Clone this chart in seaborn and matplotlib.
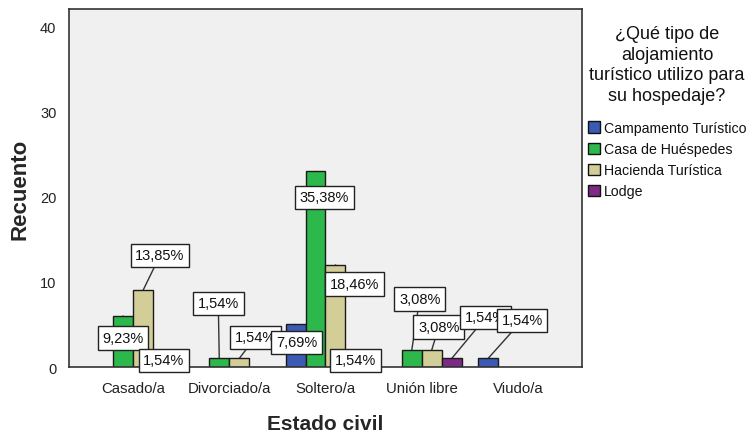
import numpy as np
import pandas as pd
import matplotlib
matplotlib.use("Agg")
import matplotlib.pyplot as plt
import seaborn as sns

# data (counts, n = 65)
estado = ['Casado/a', 'Divorciado/a', 'Soltero/a', 'Unión libre', 'Viudo/a']
tipos = ['Campamento Turístico', 'Casa de Huéspedes', 'Hacienda Turística', 'Lodge']
campamento = [0, 0, 5, 0, 1]
casa = [6, 1, 23, 2, 0]
hacienda = [9, 1, 12, 2, 0]
lodge = [1, 0, 1, 1, 0]
total = 65

colores = ['#3B5AB3', '#2DB84B', '#D3CE97', '#7D2A86']

# label box offsets in pixels from the bar top (x right, y up)
offsets = {
    ('Casado/a', 'Casa de Huéspedes'): (0, -22),
    ('Casado/a', 'Hacienda Turística'): (17, 35),
    ('Casado/a', 'Lodge'): (1, -2),
    ('Divorciado/a', 'Casa de Huéspedes'): (-1, 55),
    ('Divorciado/a', 'Hacienda Turística'): (16, 21),
    ('Soltero/a', 'Campamento Turístico'): (1, -18),
    ('Soltero/a', 'Casa de Huéspedes'): (9, -26),
    ('Soltero/a', 'Hacienda Turística'): (19, -19),
    ('Soltero/a', 'Lodge'): (0, -2),
    ('Unión libre', 'Casa de Huéspedes'): (8, 51),
    ('Unión libre', 'Hacienda Turística'): (7, 23),
    ('Unión libre', 'Lodge'): (34, 41),
    ('Viudo/a', 'Campamento Turístico'): (34, 38),
}

rows = []
for tipo, vals in zip(tipos, [campamento, casa, hacienda, lodge]):
    for e, v in zip(estado, vals):
        rows.append({'Estado civil': e, 'Tipo': tipo, 'Recuento': v})
df = pd.DataFrame(rows)

sns.set_style('white')
plt.rcParams['font.family'] = ['Liberation Sans', 'DejaVu Sans']

fig = plt.figure(figsize=(7.51, 4.39), dpi=100)
ax = fig.add_axes([69 / 751, 1 - 368 / 439, (582 - 69) / 751, (368 - 10) / 439])
ax.set_facecolor('#F0F0F0')

sns.barplot(data=df, x='Estado civil', y='Recuento', hue='Tipo',
            order=estado, hue_order=tipos, palette=colores, width=0.83,
            edgecolor='#1a1a1a', linewidth=1, saturation=1, ax=ax)

ax.set_xlim(-0.665, 4.665)
ax.set_ylim(0, 42.1)
ax.set_yticks([0, 10, 20, 30, 40])

box = dict(boxstyle='square,pad=0.32', fc='white', ec='#222222', lw=1)
for i, cont in enumerate(ax.containers):
    for j, bar in enumerate(cont):
        h = bar.get_height()
        if h <= 0:
            bar.set_visible(False)
            continue
        dx, dy = offsets.get((estado[j], tipos[i]), (0, 20))
        txt = f"{h / total * 100:.2f}%".replace('.', ',')
        xy = (bar.get_x() + bar.get_width() / 2, h)
        # leader line, kept behind the bars
        ax.annotate(txt, xy=xy, xytext=(dx, dy), textcoords='offset pixels',
                    ha='center', va='center', fontsize=10.5, color='none',
                    bbox=dict(boxstyle='square,pad=0.32', fc='none', ec='none'),
                    arrowprops=dict(arrowstyle='-', color='#333333', lw=1,
                                    shrinkA=0, shrinkB=0),
                    zorder=0.8)
        ax.annotate(txt, xy=xy, xytext=(dx, dy), textcoords='offset pixels',
                    ha='center', va='center', fontsize=10.5, color='#111111',
                    bbox=box, zorder=5 + j * 0.1 + i * 0.01)

for s in ax.spines.values():
    s.set_color('#333333')
    s.set_linewidth(1.2)
ax.tick_params(axis='both', which='both', direction='out', width=1.2,
               color='#333333', labelsize=10.5, labelcolor='#222222', pad=3)
ax.tick_params(axis='x', length=7, labelsize=10.8)
ax.tick_params(axis='y', length=6)

ax.set_xlabel('Estado civil', fontsize=15, fontweight='bold', labelpad=14)
ax.set_ylabel('Recuento', fontsize=16, fontweight='bold', labelpad=7)

sns.move_legend(ax, 'upper left', bbox_to_anchor=(582 / 751, 1 - 20 / 439),
                bbox_transform=fig.transFigure, frameon=False, borderaxespad=0,
                title='¿Qué tipo de\nalojamiento\nturístico utilizo para\nsu hospedaje?',
                title_fontsize=13, fontsize=10.2, alignment='center',
                handlelength=0.85, handleheight=0.85, handletextpad=0.3,
                labelspacing=0.5)
leg = ax.get_legend()
leg.get_title().set_multialignment('center')
leg.get_title().set_linespacing(1.3)
leg.get_title().set_color('#111111')
leg._legend_box.sep = 12
for t in leg.get_texts():
    t.set_color('#111111')
for hdl in leg.legend_handles:
    hdl.set_edgecolor('#111111')
    hdl.set_linewidth(1)

fig.savefig('out.png', dpi=100, facecolor='white')
